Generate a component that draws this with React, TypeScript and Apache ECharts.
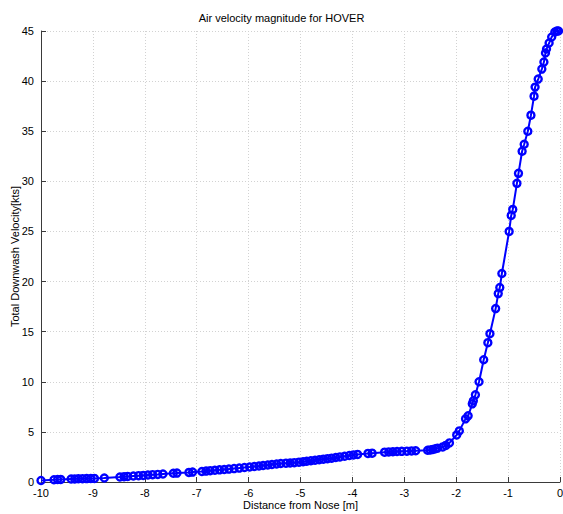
import React, { useEffect, useRef } from "react";
import * as echarts from "echarts";

// Distance from the nose [m]
const distance: number[] = [
  -10.0, -9.75, -9.68, -9.62, -9.42, -9.35, -9.28, -9.2, -9.12, -9.04, -8.97, -8.78,
  -8.48, -8.4, -8.33, -8.22, -8.12, -8.03, -7.94, -7.85, -7.75, -7.65, -7.45, -7.38,
  -7.15, -7.08, -6.9, -6.82, -6.74, -6.65, -6.56, -6.47, -6.38, -6.28, -6.18, -6.08,
  -5.98, -5.89, -5.8, -5.72, -5.63, -5.55, -5.46, -5.38, -5.28, -5.2, -5.12, -5.03,
  -4.95, -4.88, -4.8, -4.72, -4.64, -4.56, -4.48, -4.4, -4.32, -4.24, -4.15, -4.06,
  -3.98, -3.9, -3.7, -3.62, -3.38, -3.3, -3.22, -3.14, -3.05, -2.95, -2.86, -2.78,
  -2.55, -2.5, -2.45, -2.4, -2.36, -2.26, -2.2, -2.13, -1.99, -1.94, -1.82, -1.77,
  -1.69, -1.67, -1.63, -1.56, -1.47, -1.39, -1.35, -1.24, -1.19, -1.16, -1.12, -0.98,
  -0.94, -0.91, -0.83, -0.8, -0.73, -0.69, -0.62, -0.56, -0.5, -0.48, -0.42, -0.35,
  -0.31, -0.28, -0.26, -0.21, -0.16, -0.1, -0.06, -0.03,
];

// Total downwash velocity [kts]
const velocity: number[] = [
  0.15, 0.22, 0.25, 0.26, 0.3, 0.31, 0.32, 0.33, 0.34, 0.35, 0.36, 0.4,
  0.5, 0.53, 0.56, 0.6, 0.63, 0.66, 0.7, 0.73, 0.76, 0.8, 0.87, 0.89,
  0.96, 0.99, 1.05, 1.09, 1.13, 1.17, 1.21, 1.25, 1.29, 1.34, 1.39, 1.45,
  1.5, 1.55, 1.6, 1.65, 1.7, 1.75, 1.8, 1.85, 1.88, 1.9, 1.93, 1.98,
  2.02, 2.07, 2.12, 2.17, 2.22, 2.28, 2.33, 2.38, 2.44, 2.5, 2.57, 2.64,
  2.7, 2.75, 2.85, 2.88, 2.98, 3.0, 3.02, 3.04, 3.06, 3.08, 3.1, 3.12,
  3.17, 3.2, 3.25, 3.32, 3.38, 3.5, 3.65, 3.9, 4.7, 5.1, 6.3, 6.6,
  7.8, 8.1, 8.7, 10.0, 12.2, 13.9, 14.8, 17.3, 18.8, 19.4, 20.8, 25.0,
  26.6, 27.2, 29.8, 30.8, 33.0, 33.7, 35.0, 36.6, 38.5, 39.4, 40.2, 41.2,
  41.9, 42.8, 43.2, 43.8, 44.4, 44.9, 45.0, 45.0,
];

const FONT = "'Liberation Sans', Arial, Helvetica, sans-serif";

export default function App() {
  const ref = useRef<HTMLDivElement>(null);

  useEffect(() => {
    if (!ref.current) return;
    const chart = echarts.init(ref.current, undefined, { renderer: "svg" });
    const points = distance.map((d, i) => [d, velocity[i]]);
    const axisCommon = {
      axisLine: { show: true, onZero: false, lineStyle: { color: "#3a3a3a", width: 1 } },
      axisTick: { show: true, inside: true, length: 5, lineStyle: { color: "#3a3a3a" } },
      axisLabel: { color: "#000", fontSize: 11, fontFamily: FONT },
      splitLine: { show: true, lineStyle: { color: "#d2d2d2", type: [1, 2] as any, width: 1 } },
      nameTextStyle: { color: "#000", fontSize: 11, fontFamily: FONT },
      nameMoveOverlap: false,
    };
    chart.setOption({
      animation: false,
      backgroundColor: "#fff",
      title: {
        text: "Air velocity magnitude for HOVER",
        left: "center",
        top: 7,
        textStyle: { fontSize: 11, fontWeight: "normal", color: "#000", fontFamily: FONT },
      },
      grid: {
        left: 41,
        right: 3,
        top: 31,
        bottom: 32,
        containLabel: false,
        outerBoundsMode: "none",
      },
      xAxis: {
        type: "value",
        min: -10,
        max: 0,
        interval: 1,
        name: "Distance from Nose [m]",
        nameLocation: "middle",
        nameGap: 17,
        ...axisCommon,
        axisLabel: { ...axisCommon.axisLabel, margin: 5 },
      },
      yAxis: {
        type: "value",
        min: 0,
        max: 45,
        interval: 5,
        name: "Total Downwash Velocity[kts]",
        nameLocation: "middle",
        nameGap: 21,
        ...axisCommon,
        axisLabel: { ...axisCommon.axisLabel, margin: 7 },
      },
      series: [
        {
          type: "line",
          data: points,
          symbol: "circle",
          symbolSize: 7,
          clip: false,
          lineStyle: { color: "#0000ff", width: 2 },
          itemStyle: { color: "rgba(0,0,0,0)", borderColor: "#0000ff", borderWidth: 2.4 },
        },
      ],
    });
    return () => chart.dispose();
  }, []);

  return (
    <div
      ref={ref}
      style={{ position: "fixed", left: 0, top: 0, width: 563, height: 514, background: "#fff" }}
    />
  );
}
